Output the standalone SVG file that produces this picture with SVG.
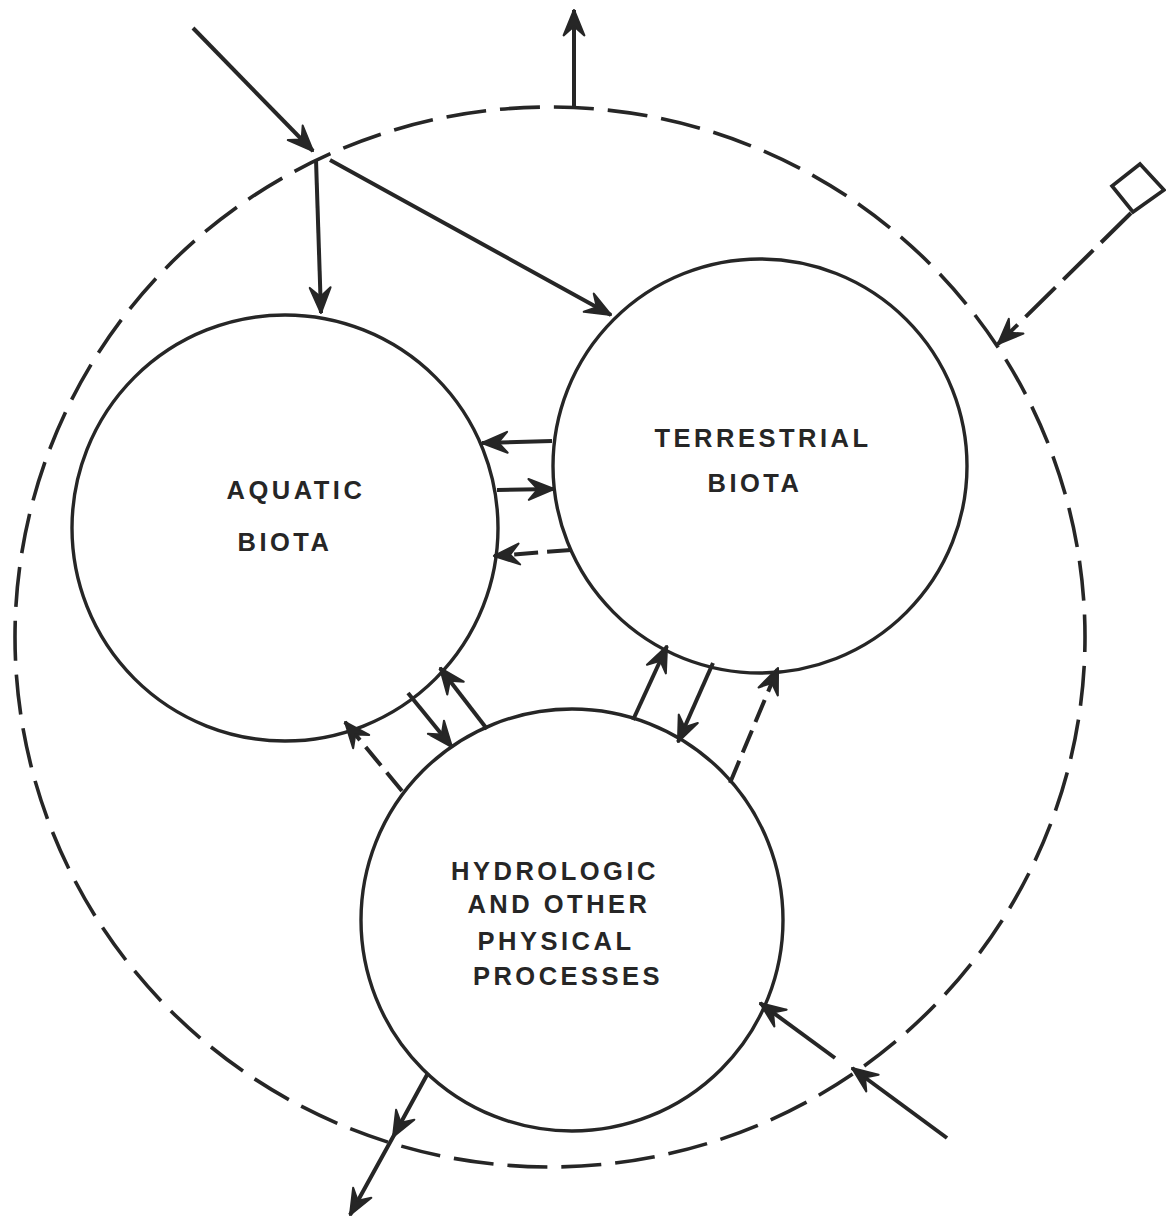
<svg xmlns="http://www.w3.org/2000/svg" width="1166" height="1218" viewBox="0 0 1166 1218">
  <defs>
    <style>
      .node { fill: none; stroke: #262626; stroke-width: 3.4; }
      .boundary { fill: none; stroke: #262626; stroke-width: 3.6; stroke-dasharray: 40 14; stroke-dashoffset: 25; }
      .flow { fill: none; stroke: #262626; stroke-width: 4; marker-end: url(#ah); }
      .dash { stroke-dasharray: 24 9; }
      .label { font-family: "Liberation Sans", Arial, sans-serif; font-weight: bold; font-size: 25.5px; letter-spacing: 3.5px; fill: #262626; text-anchor: middle; }
    </style>
    <marker id="ah" markerUnits="userSpaceOnUse" markerWidth="30" markerHeight="30" viewBox="-24 -12 26 24" refX="0" refY="0" orient="auto" overflow="visible">
      <path d="M0,0 L-22,-9 L-14,0 L-22,9 Z" fill="#262626" stroke="#262626" stroke-width="1.8" stroke-linejoin="round"/>
    </marker>
  </defs>
  <rect width="1166" height="1218" fill="#ffffff"/>

  <!-- system boundary -->
  <g id="boundary">
    <ellipse class="boundary" cx="550" cy="637" rx="535" ry="530"/>
  </g>

  <g id="aquatic">
    <circle class="node" cx="285" cy="528" r="213"/>
    <text class="label" x="296" y="499">AQUATIC</text>
    <text class="label" x="285" y="551">BIOTA</text>
  </g>

  <g id="terrestrial">
    <circle class="node" cx="760" cy="466" r="207"/>
    <text class="label" x="763" y="447">TERRESTRIAL</text>
    <text class="label" x="755" y="492">BIOTA</text>
  </g>

  <g id="hydrologic">
    <circle class="node" cx="572" cy="920" r="211"/>
    <text class="label" x="555" y="880">HYDROLOGIC</text>
    <text class="label" x="559" y="913">AND OTHER</text>
    <text class="label" x="556" y="950">PHYSICAL</text>
    <text class="label" x="568" y="985">PROCESSES</text>
  </g>

  <!-- external source marker -->
  <g id="source">
    <polygon points="1140,164 1164,190 1133,212 1112,186" fill="none" stroke="#262626" stroke-width="3.6" stroke-linejoin="miter"/>
  </g>

  <g id="connectors">
    <!-- inputs across the boundary -->
    <line class="flow" x1="193" y1="28" x2="313" y2="151"/>
    <line class="flow" x1="316" y1="160" x2="321" y2="313"/>
    <line class="flow" x1="330" y1="160" x2="611" y2="315"/>
    <line class="flow" x1="574" y1="107" x2="574" y2="10"/>
    <line class="flow" x1="1131" y1="213" x2="998" y2="344" stroke-dasharray="42 11"/>

    <!-- aquatic / terrestrial exchanges -->
    <line class="flow" x1="552" y1="441" x2="482" y2="443"/>
    <line class="flow" x1="497" y1="490" x2="554" y2="489"/>
    <line class="flow dash" x1="571" y1="550" x2="494" y2="556"/>

    <!-- aquatic / hydrologic exchanges -->
    <line class="flow dash" x1="402" y1="791" x2="345" y2="722"/>
    <line class="flow" x1="408" y1="693" x2="452" y2="747"/>
    <line class="flow" x1="487" y1="729" x2="440" y2="668"/>

    <!-- terrestrial / hydrologic exchanges -->
    <line class="flow" x1="633" y1="720" x2="667" y2="646"/>
    <line class="flow" x1="713" y1="663" x2="678" y2="742"/>
    <line class="flow dash" x1="730" y1="783" x2="778" y2="668"/>

    <!-- outflow at the bottom -->
    <polyline class="flow" points="428,1073 393,1137 350,1215" style="marker-mid:url(#ah)"/>

    <!-- inflows at the lower right -->
    <line class="flow" x1="835" y1="1058" x2="760" y2="1003"/>
    <line class="flow" x1="947" y1="1138" x2="852" y2="1068"/>
  </g>
</svg>
